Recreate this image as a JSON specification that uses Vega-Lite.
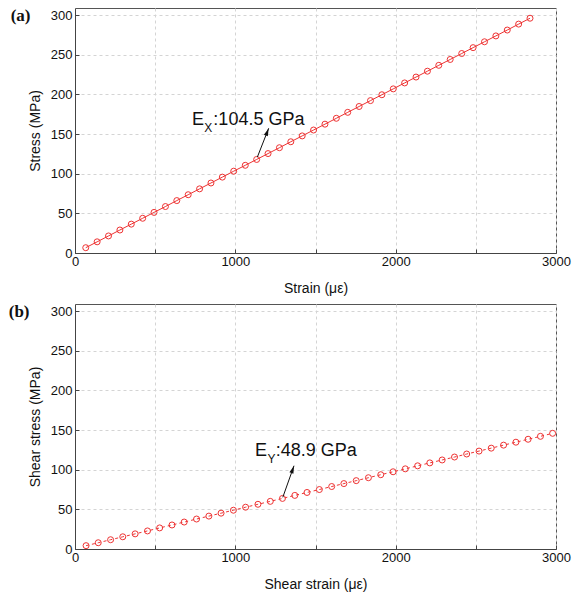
{
  "$schema": "https://vega.github.io/schema/vega-lite/v6.json",
  "background": "white",
  "padding": {"left": 8, "top": 6, "right": 14, "bottom": 4},
  "config": {
    "font": "Liberation Sans",
    "view": {"stroke": "#555", "strokeWidth": 1},
    "axis": {
      "labelFont": "Liberation Sans", "labelFontSize": 13, "labelColor": "#111",
      "titleFont": "Liberation Sans", "titleFontSize": 14, "titleFontWeight": "normal", "titleColor": "#111",
      "domainColor": "#444", "tickColor": "#444", "tickSize": -4,
      "grid": true, "gridColor": "#d4d4d4", "gridDash": [3, 3],
      "labelFlush": false, "labelOverlap": false, "format": "d"
    }
  },
  "datasets": {
    "a": [
      {"strain": 67, "stress": 6.7}, {"strain": 138, "stress": 14.1}, {"strain": 209, "stress": 21.5}, {"strain": 280, "stress": 29.0},
      {"strain": 351, "stress": 36.4}, {"strain": 422, "stress": 43.8}, {"strain": 493, "stress": 51.2}, {"strain": 564, "stress": 58.6},
      {"strain": 635, "stress": 66.1}, {"strain": 706, "stress": 73.5}, {"strain": 777, "stress": 80.9}, {"strain": 848, "stress": 88.3},
      {"strain": 919, "stress": 95.7}, {"strain": 990, "stress": 103.2}, {"strain": 1062, "stress": 110.6}, {"strain": 1133, "stress": 118.0},
      {"strain": 1204, "stress": 125.4}, {"strain": 1275, "stress": 132.8}, {"strain": 1346, "stress": 140.3}, {"strain": 1417, "stress": 147.7},
      {"strain": 1488, "stress": 155.1}, {"strain": 1559, "stress": 162.5}, {"strain": 1630, "stress": 169.9}, {"strain": 1701, "stress": 177.4},
      {"strain": 1772, "stress": 184.8}, {"strain": 1843, "stress": 192.2}, {"strain": 1914, "stress": 199.6}, {"strain": 1985, "stress": 207.0},
      {"strain": 2056, "stress": 214.5}, {"strain": 2127, "stress": 221.9}, {"strain": 2198, "stress": 229.3}, {"strain": 2269, "stress": 236.7},
      {"strain": 2340, "stress": 244.1}, {"strain": 2412, "stress": 251.6}, {"strain": 2483, "stress": 259.0}, {"strain": 2554, "stress": 266.4},
      {"strain": 2625, "stress": 273.8}, {"strain": 2696, "stress": 281.2}, {"strain": 2767, "stress": 288.7}, {"strain": 2838, "stress": 296.1}
    ],
    "b": [
      {"strain": 69, "stress": 4.2}, {"strain": 145, "stress": 7.9}, {"strain": 222, "stress": 11.7}, {"strain": 298, "stress": 15.4},
      {"strain": 375, "stress": 19.1}, {"strain": 452, "stress": 22.8}, {"strain": 528, "stress": 26.6}, {"strain": 605, "stress": 30.3},
      {"strain": 681, "stress": 34.0}, {"strain": 758, "stress": 37.8}, {"strain": 835, "stress": 41.5}, {"strain": 911, "stress": 45.2},
      {"strain": 988, "stress": 48.9}, {"strain": 1064, "stress": 52.7}, {"strain": 1141, "stress": 56.4}, {"strain": 1218, "stress": 60.1},
      {"strain": 1294, "stress": 63.8}, {"strain": 1371, "stress": 67.6}, {"strain": 1447, "stress": 71.3}, {"strain": 1524, "stress": 75.0},
      {"strain": 1601, "stress": 78.8}, {"strain": 1677, "stress": 82.5}, {"strain": 1754, "stress": 86.2}, {"strain": 1830, "stress": 89.9},
      {"strain": 1907, "stress": 93.7}, {"strain": 1984, "stress": 97.4}, {"strain": 2060, "stress": 101.1}, {"strain": 2137, "stress": 104.9},
      {"strain": 2213, "stress": 108.6}, {"strain": 2290, "stress": 112.3}, {"strain": 2367, "stress": 116.0}, {"strain": 2443, "stress": 119.8},
      {"strain": 2520, "stress": 123.5}, {"strain": 2596, "stress": 127.2}, {"strain": 2673, "stress": 131.0}, {"strain": 2750, "stress": 134.7},
      {"strain": 2826, "stress": 138.4}, {"strain": 2903, "stress": 142.1}, {"strain": 2979, "stress": 145.9}
    ]
  },
  "bounds": "flush",
  "spacing": 51,
  "vconcat": [
    {
      "width": 481, "height": 245,
      "title": {"text": "(a)", "orient": "left", "anchor": "end", "angle": 0, "align": "right", "baseline": "top", "font": "Liberation Serif", "fontSize": 17, "fontWeight": "bold", "color": "#111", "offset": -22},
      "layer": [
        {
          "data": {"name": "a"},
          "mark": {"type": "line", "color": "#ee3333", "strokeWidth": 1},
          "encoding": {
            "x": {"field": "strain", "type": "quantitative", "scale": {"domain": [0, 3000], "nice": false},
                  "axis": {"title": "Strain (με)", "values": [0, 500, 1000, 1500, 2000, 2500, 3000], "labelExpr": "datum.value % 1000 === 0 ? datum.label : ''", "labelPadding": 6, "titlePadding": 13}},
            "y": {"field": "stress", "type": "quantitative", "scale": {"domain": [0, 309], "nice": false},
                  "axis": {"title": "Stress (MPa)", "values": [0, 25, 50, 75, 100, 125, 150, 175, 200, 225, 250, 275, 300], "labelExpr": "datum.value % 50 === 0 ? datum.label : ''", "labelPadding": 7, "titlePadding": 8}}
          }
        },
        {
          "data": {"name": "a"},
          "mark": {"type": "point", "shape": "circle", "filled": false, "color": "#ee3333", "size": 36, "strokeWidth": 1, "opacity": 1},
          "encoding": {
            "x": {"field": "strain", "type": "quantitative"},
            "y": {"field": "stress", "type": "quantitative"}
          }
        },
        {
          "data": {"values": [{"strain": 1137, "stress": 120.8, "strain2": 1208, "stress2": 157.3}]},
          "mark": {"type": "rule", "color": "#111", "strokeWidth": 1},
          "encoding": {
            "x": {"field": "strain", "type": "quantitative"}, "y": {"field": "stress", "type": "quantitative"},
            "x2": {"field": "strain2"}, "y2": {"field": "stress2"}
          }
        },
        {
          "data": {"values": [{"strain": 1208, "stress": 157.3, "angle": 21.5}]},
          "mark": {"type": "point", "shape": "M0,0 L0.3,1.1 L-0.3,1.1 Z", "filled": true, "color": "#111", "size": 196, "opacity": 1},
          "encoding": {
            "x": {"field": "strain", "type": "quantitative"}, "y": {"field": "stress", "type": "quantitative"},
            "angle": {"field": "angle", "type": "quantitative", "scale": null}
          }
        },
        {
          "data": {"values": [{"strain": 730, "stress": 161.5, "label": "E"}, {"strain": 863, "stress": 161.5, "label": ":104.5 GPa"}]},
          "mark": {"type": "text", "align": "left", "baseline": "alphabetic", "fontSize": 18, "font": "Liberation Sans", "color": "#111"},
          "encoding": {
            "x": {"field": "strain", "type": "quantitative"}, "y": {"field": "stress", "type": "quantitative"},
            "text": {"field": "label"}
          }
        },
        {
          "data": {"values": [{"strain": 806, "stress": 152.7, "label": "X"}]},
          "mark": {"type": "text", "align": "left", "baseline": "alphabetic", "fontSize": 12, "font": "Liberation Sans", "color": "#111"},
          "encoding": {
            "x": {"field": "strain", "type": "quantitative"}, "y": {"field": "stress", "type": "quantitative"},
            "text": {"field": "label"}
          }
        }
      ]
    },
    {
      "width": 481, "height": 245,
      "title": {"text": "(b)", "orient": "left", "anchor": "end", "angle": 0, "align": "right", "baseline": "top", "font": "Liberation Serif", "fontSize": 17, "fontWeight": "bold", "color": "#111", "offset": -22},
      "layer": [
        {
          "data": {"name": "b"},
          "mark": {"type": "line", "color": "#ee3333", "strokeWidth": 1, "strokeDash": [3, 3]},
          "encoding": {
            "x": {"field": "strain", "type": "quantitative", "scale": {"domain": [0, 3000], "nice": false},
                  "axis": {"title": "Shear strain (με)", "values": [0, 500, 1000, 1500, 2000, 2500, 3000], "labelExpr": "datum.value % 1000 === 0 ? datum.label : ''", "labelPadding": 6, "titlePadding": 13}},
            "y": {"field": "stress", "type": "quantitative", "scale": {"domain": [0, 309], "nice": false},
                  "axis": {"title": "Shear stress (MPa)", "values": [0, 25, 50, 75, 100, 125, 150, 175, 200, 225, 250, 275, 300], "labelExpr": "datum.value % 50 === 0 ? datum.label : ''", "labelPadding": 7, "titlePadding": 8}}
          }
        },
        {
          "data": {"name": "b"},
          "mark": {"type": "point", "shape": "circle", "filled": false, "color": "#ee3333", "size": 36, "strokeWidth": 1, "opacity": 1},
          "encoding": {
            "x": {"field": "strain", "type": "quantitative"},
            "y": {"field": "stress", "type": "quantitative"}
          }
        },
        {
          "data": {"values": [{"strain": 1296, "stress": 65.2, "strain2": 1366, "stress2": 105}]},
          "mark": {"type": "rule", "color": "#111", "strokeWidth": 1},
          "encoding": {
            "x": {"field": "strain", "type": "quantitative"}, "y": {"field": "stress", "type": "quantitative"},
            "x2": {"field": "strain2"}, "y2": {"field": "stress2"}
          }
        },
        {
          "data": {"values": [{"strain": 1366, "stress": 105, "angle": 19.7}]},
          "mark": {"type": "point", "shape": "M0,0 L0.3,1.1 L-0.3,1.1 Z", "filled": true, "color": "#111", "size": 196, "opacity": 1},
          "encoding": {
            "x": {"field": "strain", "type": "quantitative"}, "y": {"field": "stress", "type": "quantitative"},
            "angle": {"field": "angle", "type": "quantitative", "scale": null}
          }
        },
        {
          "data": {"values": [{"strain": 1123, "stress": 117.2, "label": "E"}, {"strain": 1252, "stress": 117.2, "label": ":48.9 GPa"}]},
          "mark": {"type": "text", "align": "left", "baseline": "alphabetic", "fontSize": 18, "font": "Liberation Sans", "color": "#111"},
          "encoding": {
            "x": {"field": "strain", "type": "quantitative"}, "y": {"field": "stress", "type": "quantitative"},
            "text": {"field": "label"}
          }
        },
        {
          "data": {"values": [{"strain": 1200, "stress": 108.4, "label": "Y"}]},
          "mark": {"type": "text", "align": "left", "baseline": "alphabetic", "fontSize": 12, "font": "Liberation Sans", "color": "#111"},
          "encoding": {
            "x": {"field": "strain", "type": "quantitative"}, "y": {"field": "stress", "type": "quantitative"},
            "text": {"field": "label"}
          }
        }
      ]
    }
  ]
}
